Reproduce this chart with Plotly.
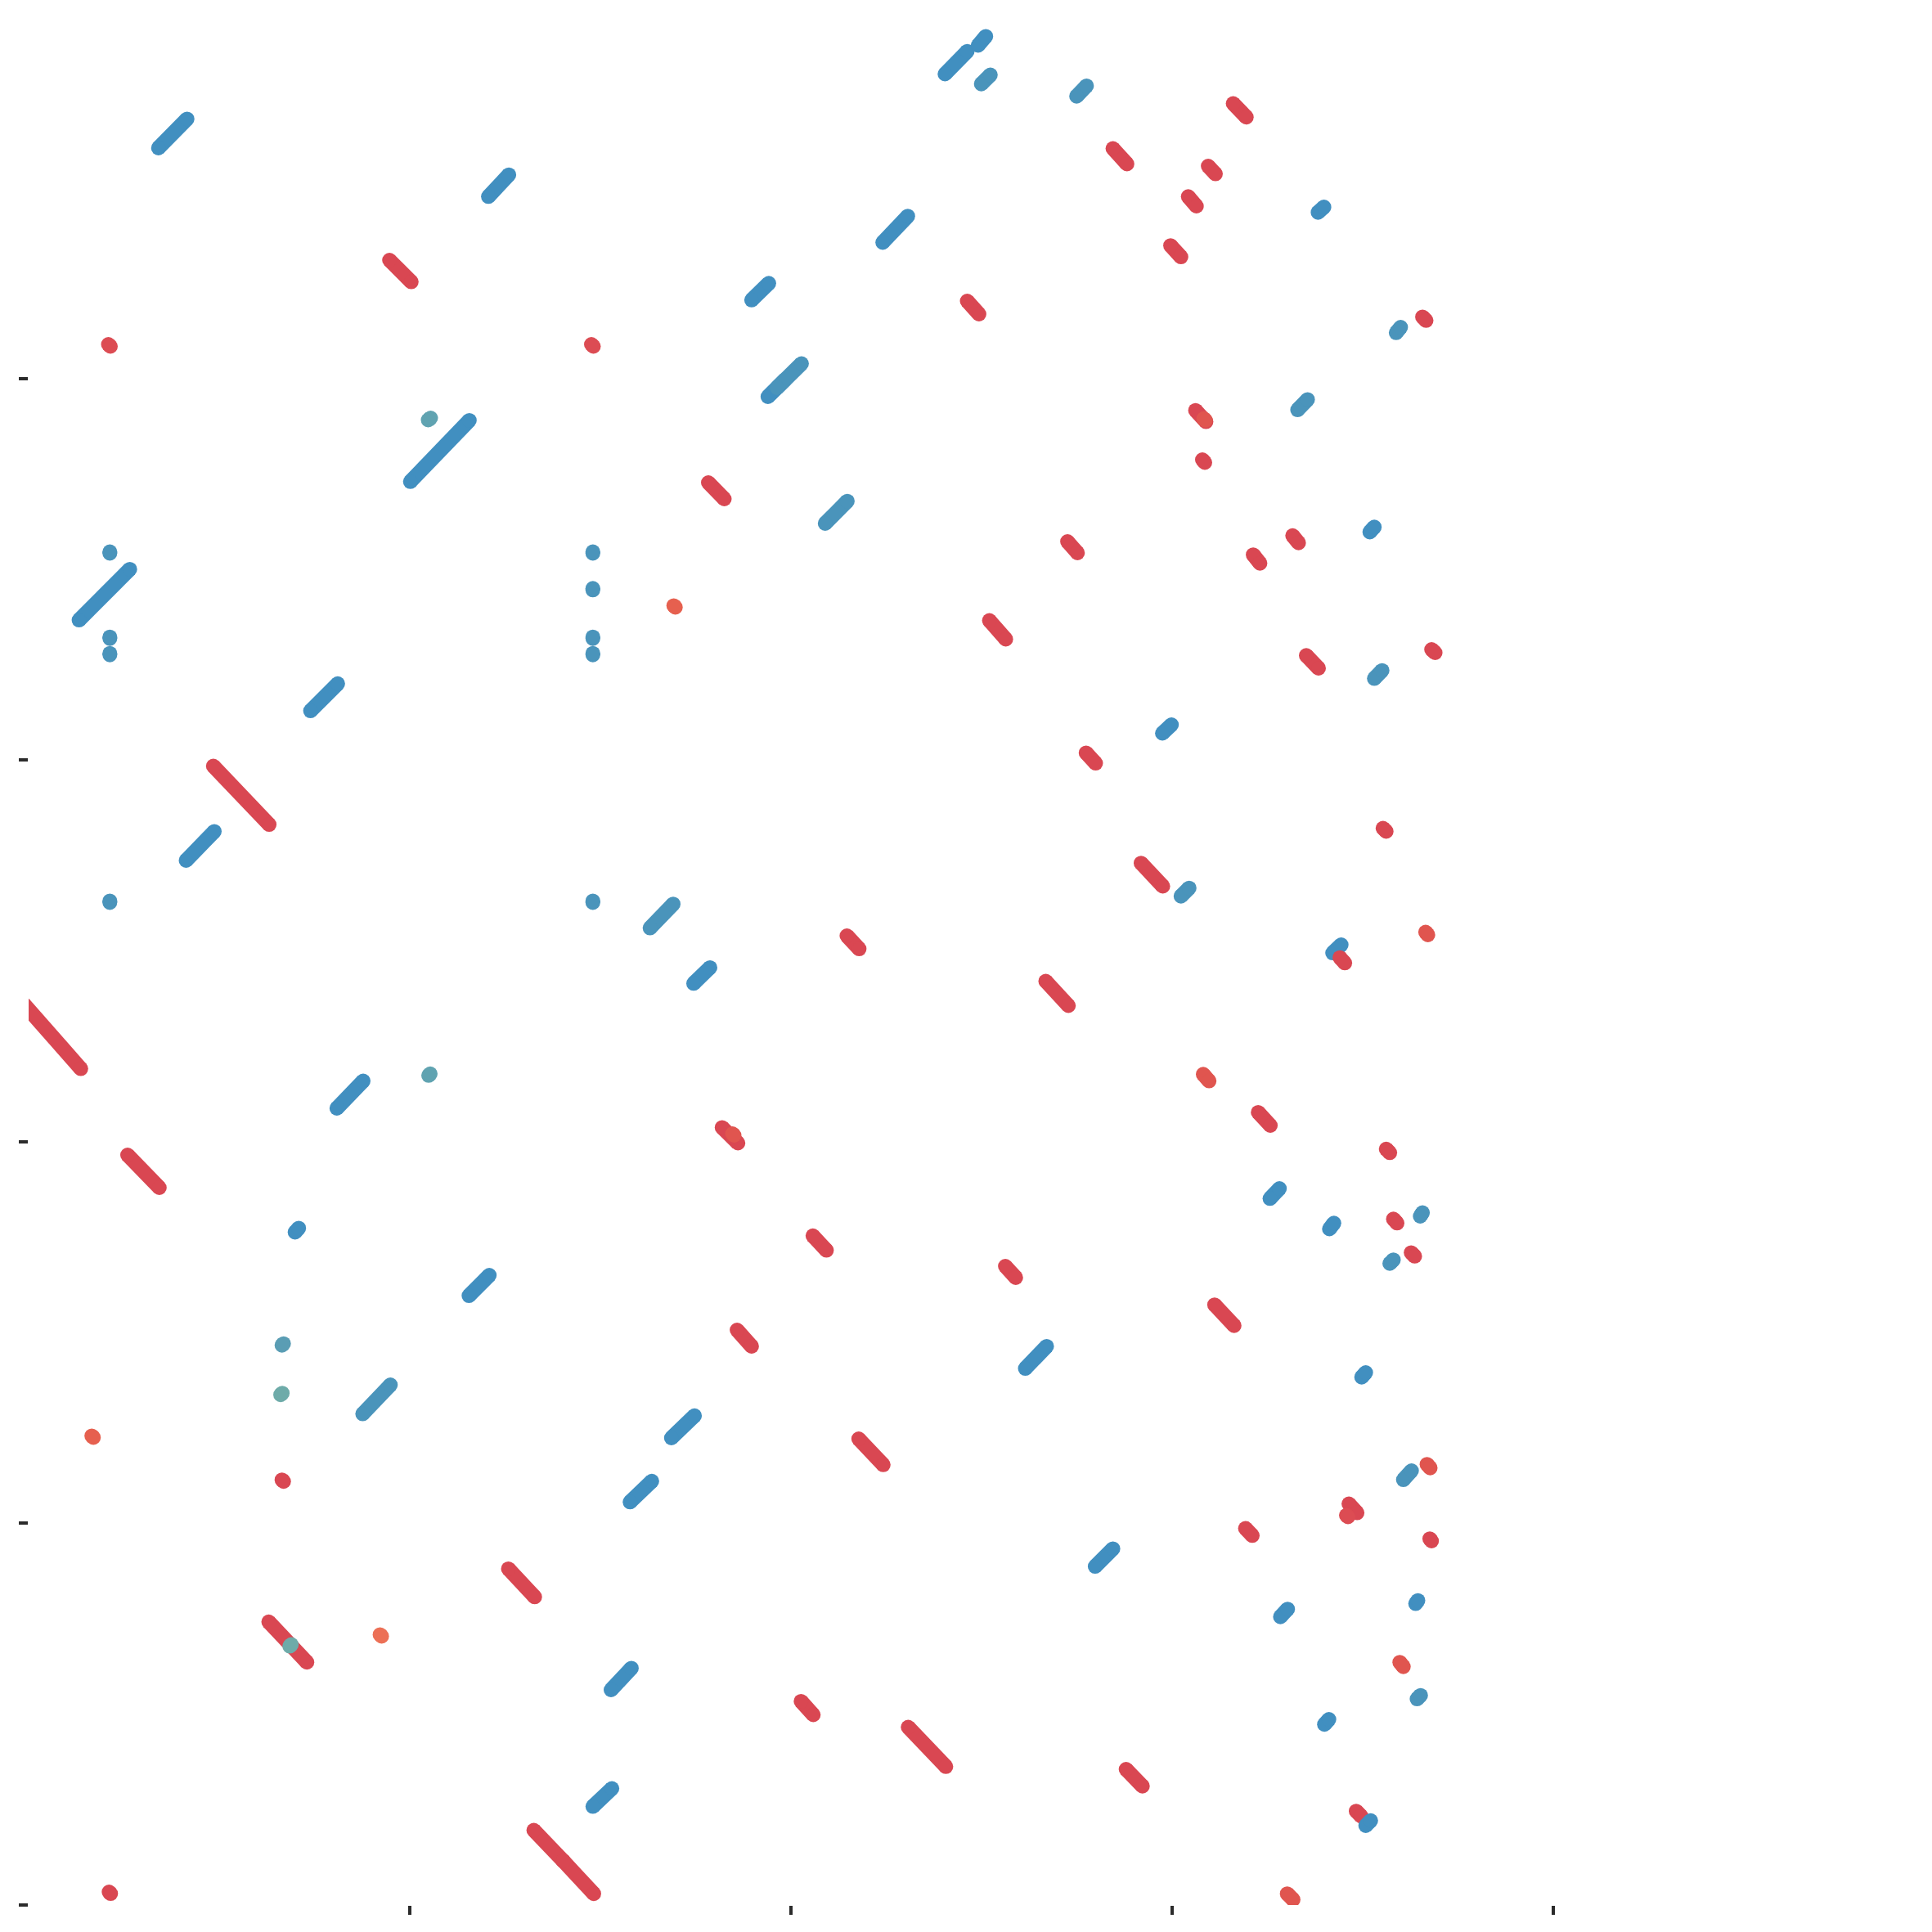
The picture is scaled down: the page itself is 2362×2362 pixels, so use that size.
import plotly.graph_objects as go

# Segment data (chart coordinates): start point, end point, shift class
segments = [
    (193.7, 180.9, 228.7, 145.4, "B"),
    (597.1, 240.3, 622.1, 213.7, "B"),
    (476.2, 318.0, 502.8, 344.6, "R"),
    (132.5, 421.0, 135.0, 423.5, "RL"),
    (723.0, 421.0, 725.5, 423.5, "RL"),
    (523.5, 513.5, 526.5, 511.0, "T"),
    (501.7, 588.8, 573.8, 513.9, "B"),
    (866.0, 590.0, 885.5, 610.0, "R"),
    (134.3, 676.5, 134.3, 674.5, "BL"),
    (96.6, 758.1, 158.7, 695.9, "B"),
    (134.3, 780.7, 134.3, 778.7, "BL"),
    (134.3, 800.7, 134.3, 798.7, "BL"),
    (724.8, 676.5, 724.8, 674.5, "BL"),
    (724.8, 721.3, 724.8, 719.3, "BL"),
    (724.8, 780.7, 724.8, 778.7, "BL"),
    (724.8, 800.7, 724.8, 798.7, "BL"),
    (823.7, 740.4, 825.7, 742.4, "O"),
    (379.6, 869.1, 412.9, 835.8, "B"),
    (1155.3, 90.5, 1182.5, 62.7, "B"),
    (1195.8, 55.5, 1205.2, 44.4, "B"),
    (1199.7, 102.7, 1210.8, 91.6, "BL"),
    (1316.2, 117.7, 1328.4, 104.9, "BL"),
    (1507.6, 126.5, 1523.7, 143.2, "R"),
    (1360.6, 181.5, 1377.8, 200.4, "R"),
    (1477.1, 203.1, 1486.0, 212.6, "R"),
    (1452.7, 240.3, 1462.7, 252.0, "R"),
    (1431.1, 300.2, 1443.8, 314.1, "R"),
    (1611.4, 259.7, 1618.6, 253.1, "B"),
    (1079.2, 296.4, 1109.8, 264.2, "B"),
    (918.9, 366.8, 939.9, 346.3, "B"),
    (1182.5, 368.0, 1196.9, 384.0, "R"),
    (1706.9, 406.8, 1712.4, 400.1, "BL"),
    (1739.1, 387.4, 1743.5, 391.8, "R"),
    (938.8, 485.0, 960.0, 464.0, "B"),
    (950.0, 474.0, 979.9, 444.5, "BL"),
    (1461.6, 501.7, 1474.4, 515.6, "R"),
    (1471.7, 511.8, 1473.7, 513.8, "RO"),
    (1470.0, 562.0, 1473.0, 565.5, "R"),
    (1586.4, 501.1, 1598.6, 488.4, "BL"),
    (1008.8, 639.9, 1035.9, 612.7, "BL"),
    (1305.1, 662.1, 1317.3, 675.9, "R"),
    (1532.1, 678.2, 1540.4, 688.7, "R"),
    (1580.3, 654.8, 1587.6, 663.7, "R"),
    (1674.7, 650.4, 1680.2, 644.3, "B"),
    (1209.6, 758.6, 1229.6, 781.4, "R"),
    (1597.0, 801.3, 1612.0, 816.9, "R"),
    (1680.2, 829.6, 1689.7, 819.7, "BL"),
    (1750.2, 794.1, 1754.6, 798.0, "R"),
    (1421.1, 896.5, 1432.2, 886.0, "B"),
    (260.8, 936.5, 329.1, 1008.1, "R"),
    (227.5, 1051.9, 262.0, 1016.4, "B"),
    (134.3, 1103.4, 134.3, 1101.4, "BL"),
    (724.8, 1103.4, 724.8, 1101.4, "BL"),
    (794.7, 1134.6, 823.0, 1105.2, "BL"),
    (848.0, 1202.3, 868.0, 1182.9, "B"),
    (20.0, 1217.0, 98.8, 1306.6, "R"),
    (411.8, 1354.9, 444.0, 1321.6, "B"),
    (524.0, 1314.8, 526.0, 1312.8, "T"),
    (156.0, 1412.1, 194.8, 1452.0, "R"),
    (360.7, 1506.4, 365.2, 1501.4, "B"),
    (573.3, 1584.1, 598.2, 1559.1, "B"),
    (882.8, 1378.4, 902.2, 1397.5, "R"),
    (895.5, 1386.0, 897.5, 1388.0, "RO"),
    (1327.8, 920.4, 1339.5, 933.1, "R"),
    (1690.8, 1012.5, 1694.7, 1016.4, "R"),
    (1395.0, 1055.2, 1421.6, 1083.5, "R"),
    (1443.8, 1095.7, 1453.8, 1085.7, "BL"),
    (1742.9, 1139.6, 1745.7, 1142.9, "RO"),
    (1035.4, 1144.0, 1050.4, 1160.1, "R"),
    (1629.2, 1165.1, 1639.7, 1155.1, "B"),
    (1638.1, 1170.7, 1644.1, 1177.3, "R"),
    (1278.5, 1199.5, 1306.2, 1229.5, "R"),
    (1471.0, 1313.3, 1478.2, 1321.6, "RO"),
    (1538.2, 1359.9, 1553.1, 1376.0, "R"),
    (1694.7, 1404.8, 1699.1, 1409.3, "R"),
    (1552.6, 1465.3, 1564.2, 1453.1, "B"),
    (1625.3, 1502.5, 1630.8, 1495.3, "B"),
    (1703.5, 1490.3, 1708.0, 1495.3, "R"),
    (1736.3, 1487.0, 1739.1, 1482.5, "BL"),
    (1725.2, 1531.4, 1729.6, 1535.8, "R"),
    (1699.1, 1544.7, 1703.5, 1540.2, "BL"),
    (993.8, 1510.8, 1010.4, 1528.6, "R"),
    (1229.1, 1548.0, 1241.8, 1561.9, "R"),
    (1484.9, 1595.2, 1508.8, 1620.7, "R"),
    (344.7, 1644.7, 346.7, 1642.7, "T1"),
    (343.1, 1705.2, 345.1, 1703.2, "T2"),
    (443.4, 1728.6, 477.3, 1693.1, "BL"),
    (820.8, 1758.0, 849.1, 1730.8, "B"),
    (770.3, 1836.3, 796.9, 1810.8, "B"),
    (112.2, 1755.4, 114.2, 1757.4, "O"),
    (344.7, 1809.2, 346.7, 1811.2, "R"),
    (621.5, 1917.9, 653.7, 1952.3, "R"),
    (328.5, 1982.8, 375.2, 2032.2, "R"),
    (354.2, 2012.6, 356.2, 2010.6, "T2"),
    (464.6, 1998.4, 466.6, 2000.4, "O2"),
    (747.0, 2066.0, 771.9, 2039.4, "B"),
    (724.8, 2208.6, 748.1, 2186.5, "B"),
    (652.6, 2237.5, 688.7, 2275.2, "R"),
    (688.7, 2275.2, 725.9, 2315.2, "R"),
    (133.3, 2313.1, 135.3, 2315.1, "R"),
    (901.1, 1626.0, 918.9, 1645.9, "R"),
    (1253.5, 1673.1, 1279.6, 1645.9, "B"),
    (1664.7, 1683.7, 1669.7, 1678.1, "B"),
    (1049.8, 1759.1, 1079.8, 1790.8, "R"),
    (1715.7, 1809.1, 1725.7, 1798.0, "BL"),
    (1744.6, 1790.2, 1748.5, 1794.7, "RO"),
    (1649.1, 1838.5, 1659.1, 1849.6, "R"),
    (1646.0, 1852.5, 1648.0, 1854.5, "RL"),
    (1522.6, 1868.5, 1531.0, 1877.3, "R"),
    (1748.0, 1881.2, 1750.2, 1884.0, "R"),
    (1338.9, 1915.1, 1360.6, 1893.4, "B"),
    (1565.4, 1976.7, 1574.2, 1967.2, "B"),
    (1730.7, 1960.6, 1733.5, 1956.7, "B"),
    (1711.3, 2032.2, 1715.7, 2037.7, "RO"),
    (1732.4, 2077.1, 1736.8, 2072.7, "BL"),
    (1619.2, 2108.2, 1624.7, 2102.1, "B"),
    (979.3, 2079.9, 994.3, 2096.5, "R"),
    (1110.3, 2111.5, 1156.4, 2159.8, "R"),
    (1376.7, 2163.1, 1396.7, 2183.7, "R"),
    (1658.0, 2214.2, 1664.1, 2220.3, "R"),
    (1669.7, 2232.0, 1675.8, 2225.8, "B"),
    (1573.7, 2315.2, 1580.9, 2322.4, "RO"),
]

x_ticks = [34.5, 500.5, 966.5, 1432.5, 1898.5]
y_ticks = [2329.0, 1862.4, 1395.8, 929.2, 462.6]

palette = {
    "B": "#418FC0",
    "BL": "#4A94BB",
    "T1": "#5A9DB4",
    "T": "#60A3B1",
    "T2": "#6EABA9",
    "R": "#D94752",
    "RL": "#DC4C53",
    "RO": "#E0554F",
    "O": "#E6604F",
    "O2": "#EC7056",
}

W = 18
fig = go.Figure()
for x0, y0, x1, y1, cls in segments:
    c = palette[cls]
    fig.add_trace(go.Scatter(
        x=[x0, x1], y=[y0, y1], mode="lines+markers",
        line=dict(color=c, width=W),
        marker=dict(color=c, size=W, line=dict(width=0)),
        hoverinfo="skip", showlegend=False,
    ))

axis_common = dict(showgrid=False, zeroline=False, showline=False,
                   showticklabels=False, ticks="outside", ticklen=11,
                   tickwidth=4, tickcolor="#2b2b2b")
fig.update_layout(
    width=2362, height=2362,
    margin=dict(l=35, r=0, t=0, b=33),
    paper_bgcolor="white", plot_bgcolor="white",
    xaxis=dict(range=[35, 2362], tickmode="array", tickvals=x_ticks, **axis_common),
    yaxis=dict(range=[2329, 0], tickmode="array", tickvals=y_ticks, **axis_common),
    showlegend=False,
)
fig.write_html("out.html")
